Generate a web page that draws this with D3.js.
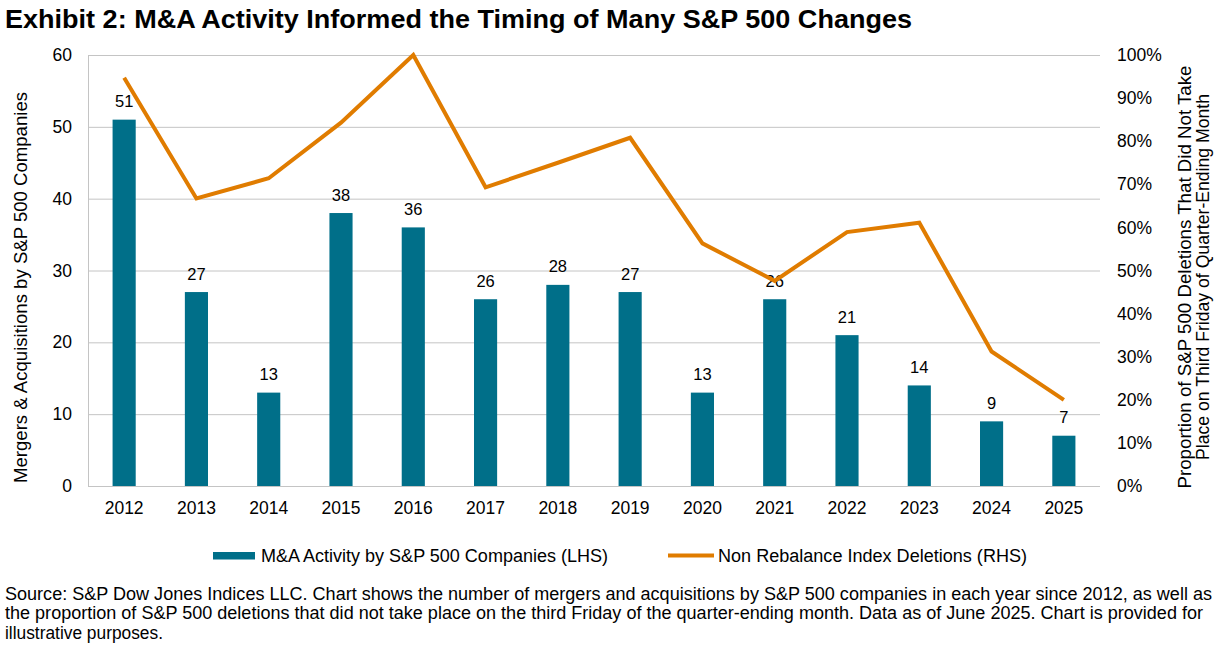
<!DOCTYPE html>
<html>
<head>
<meta charset="utf-8">
<script src="https://cdn.jsdelivr.net/npm/d3@7"></script>
<style>
  body { margin: 0; background: #fff; }
  svg text { font-family: "Liberation Sans", Arial, sans-serif; fill: #000; }
</style>
</head>
<body>
<svg id="chart" width="1221" height="649"></svg>
<script>
// ---- Data read from the exhibit ----
const years = ["2012", "2013", "2014", "2015", "2016", "2017", "2018", "2019", "2020", "2021", "2022", "2023", "2024", "2025"];
const mnaCounts = [51, 27, 13, 38, 36, 26, 28, 27, 13, 26, 21, 14, 9, 7];
const nonRebalancePct = [0.947, 0.667, 0.714, 0.843, 1.0, 0.693, 0.75, 0.808, 0.563, 0.476, 0.589, 0.611, 0.312, 0.20];
const leftTicks = [0, 10, 20, 30, 40, 50, 60];
const rightTicks = [0, 0.1, 0.2, 0.3, 0.4, 0.5, 0.6, 0.7, 0.8, 0.9, 1.0];

const titleText = "Exhibit 2: M&A Activity Informed the Timing of Many S&P 500 Changes";
const leftTitle = "Mergers & Acquisitions by S&P 500 Companies";
const rightTitle = ["Proportion of S&P 500 Deletions That Did Not Take", "Place on Third Friday of Quarter-Ending Month"];
const legendLabels = ["M&A Activity by S&P 500 Companies (LHS)", "Non Rebalance Index Deletions (RHS)"];
const sourceLines = [
  "Source: S&P Dow Jones Indices LLC. Chart shows the number of mergers and acquisitions by S&P 500 companies in each year since 2012, as well as",
  "the proportion of S&P 500 deletions that did not take place on the third Friday of the quarter-ending month. Data as of June 2025. Chart is provided for",
  "illustrative purposes."
];

(function () {
  const BAR = "#006f89";
  const LINE = "#e07c00";
  const GRID = "#c4c4c4";
  const FONT = "Liberation Sans, Arial, sans-serif";
  const TICK = 17.5;

  const svg = d3.select("#chart");

  // plot box
  const pLeft = 88, pRight = 1100, pTop = 55, pBottom = 486;

  const x = d3.scaleBand().domain(years).range([pLeft, pRight]).paddingInner(0.68).paddingOuter(0.34);
  const yL = d3.scaleLinear().domain([0, 60]).range([pBottom, pTop]);
  const yR = d3.scaleLinear().domain([0, 1]).range([pBottom, pTop]);
  const cx = d => x(d) + x.bandwidth() / 2;

  // title
  svg.append("text")
    .attr("x", 5).attr("y", 28)
    .attr("font-size", 26).attr("font-weight", "bold")
    .attr("textLength", 907).attr("lengthAdjust", "spacingAndGlyphs")
    .text(titleText);

  // gridlines (left axis)
  svg.append("g")
    .selectAll("line")
    .data(leftTicks.filter(t => t > 0))
    .join("line")
    .attr("x1", pLeft).attr("x2", pRight)
    .attr("y1", d => yL(d) + 0.5).attr("y2", d => yL(d) + 0.5)
    .attr("stroke", GRID).attr("stroke-width", 1);

  // left axis
  const gL = svg.append("g").attr("transform", `translate(${pLeft},0)`)
    .call(d3.axisLeft(yL).tickValues(leftTicks).tickSize(0).tickPadding(16));
  gL.select(".domain").attr("stroke", GRID);
  gL.selectAll("text").attr("font-size", TICK).style("font-family", FONT).attr("fill", "#000");

  // x axis
  const gX = svg.append("g").attr("transform", `translate(0,${pBottom})`)
    .call(d3.axisBottom(x).tickSize(0).tickPadding(16));
  gX.select(".domain").attr("stroke", GRID).attr("d", `M${pLeft},0.5H${pRight}`);
  gX.selectAll("text").attr("font-size", TICK).style("font-family", FONT).attr("fill", "#000");

  // right axis
  const gR = svg.append("g").attr("transform", `translate(${pRight},0)`)
    .call(d3.axisRight(yR).tickValues(rightTicks).tickFormat(d3.format(".0%")).tickSize(0).tickPadding(17));
  gR.select(".domain").remove();
  gR.selectAll("text").attr("font-size", TICK).style("font-family", FONT).attr("fill", "#000");

  // bars
  svg.append("g")
    .selectAll("rect")
    .data(years)
    .join("rect")
    .attr("x", d => x(d))
    .attr("width", x.bandwidth())
    .attr("y", (d, i) => yL(mnaCounts[i]))
    .attr("height", (d, i) => pBottom - yL(mnaCounts[i]))
    .attr("fill", BAR);

  // bar labels
  svg.append("g")
    .selectAll("text")
    .data(years)
    .join("text")
    .attr("x", d => cx(d))
    .attr("y", (d, i) => yL(mnaCounts[i]) - 12.5)
    .attr("text-anchor", "middle")
    .attr("font-size", 16.5)
    .text((d, i) => mnaCounts[i]);

  // line (RHS)
  const line = d3.line()
    .x((d, i) => cx(years[i]))
    .y(d => yR(d));

  svg.append("path")
    .datum(nonRebalancePct)
    .attr("d", line)
    .attr("fill", "none")
    .attr("stroke", LINE)
    .attr("stroke-width", 4)
    .attr("stroke-linejoin", "miter");

  // axis titles
  svg.append("text")
    .attr("transform", "translate(27,287.5) rotate(-90)")
    .attr("text-anchor", "middle")
    .attr("font-size", 18.5)
    .attr("textLength", 391).attr("lengthAdjust", "spacingAndGlyphs")
    .text(leftTitle);

  const rightLens = [423, 366];
  svg.append("g")
    .selectAll("text")
    .data(rightTitle)
    .join("text")
    .attr("transform", (d, i) => `translate(${1191 + i * 18},277) rotate(-90)`)
    .attr("text-anchor", "middle")
    .attr("font-size", 18.5)
    .attr("textLength", (d, i) => rightLens[i]).attr("lengthAdjust", "spacingAndGlyphs")
    .text(d => d);

  // legend
  const lg = svg.append("g");
  lg.append("rect").attr("x", 213).attr("y", 552).attr("width", 42).attr("height", 7.5).attr("fill", BAR);
  lg.append("text").attr("x", 261).attr("y", 562).attr("font-size", 18)
    .attr("textLength", 347).attr("lengthAdjust", "spacingAndGlyphs").text(legendLabels[0]);
  lg.append("line").attr("x1", 668).attr("x2", 714).attr("y1", 555.5).attr("y2", 555.5)
    .attr("stroke", LINE).attr("stroke-width", 4);
  lg.append("text").attr("x", 718).attr("y", 562).attr("font-size", 18)
    .attr("textLength", 309).attr("lengthAdjust", "spacingAndGlyphs").text(legendLabels[1]);

  // source note
  const srcLens = [1207, 1198, 158];
  svg.append("g")
    .selectAll("text")
    .data(sourceLines)
    .join("text")
    .attr("x", 5)
    .attr("y", (d, i) => 599.5 + i * 19.5)
    .attr("font-size", 17.5)
    .attr("textLength", (d, i) => srcLens[i]).attr("lengthAdjust", "spacingAndGlyphs")
    .text(d => d);
})();
</script>
</body>
</html>
